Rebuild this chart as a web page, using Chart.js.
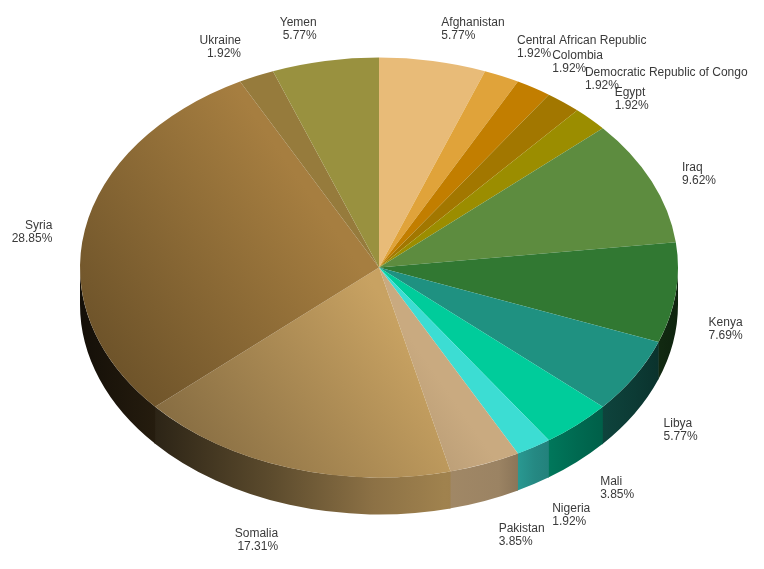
<!DOCTYPE html>
<html>
<head>
<meta charset="utf-8">
<script src="https://cdn.jsdelivr.net/npm/chart.js@4.4.1/dist/chart.umd.min.js"></script>
<style>
  html, body { margin: 0; padding: 0; background: #fff; overflow: hidden; }
  #wrap { width: 764px; height: 569px; }
</style>
</head>
<body>
<div id="wrap"><canvas id="pie" width="764" height="569"></canvas></div>
<script>
const countries = [
  "Afghanistan", "Central African Republic", "Colombia", "Democratic Republic of Congo",
  "Egypt", "Iraq", "Kenya", "Libya", "Mali", "Nigeria", "Pakistan", "Somalia",
  "Syria", "Ukraine", "Yemen"
];
const counts = [3, 1, 1, 1, 1, 5, 4, 3, 2, 1, 2, 9, 15, 1, 3];

const sliceColors = [
  "#E8BB78", "#E0A33A", "#C27E00", "#A27700", "#9B8D00", "#5D8C3F", "#317832",
  "#1F9181", "#00CC9B", "#3CDDD3", "#C9AA80", "#C8A262", "#A67E40", "#967B3C", "#99913F"
];

// where the tilted pie sits on screen
const PIE = { x: 379, y: 267.5, rx: 299, ry: 210, depth: 37 };

// lighting of the side wall, left -> right across the pie
const sideLight = [
  [0, 0.12], [0.125, 0.22], [0.32, 0.46], [0.49, 0.7], [0.61, 0.8],
  [0.7, 0.77], [0.76, 0.62], [0.83, 0.52], [0.93, 0.4], [1, 0.3]
];

const total = counts.reduce((a, b) => a + b, 0);

function shade(hex, f) {
  const n = parseInt(hex.slice(1), 16);
  const r = Math.round(((n >> 16) & 255) * f);
  const g = Math.round(((n >> 8) & 255) * f);
  const b = Math.round((n & 255) * f);
  return "rgb(" + r + "," + g + "," + b + ")";
}

// top face: darker towards the lower left (screen direction x - 0.7y)
function topFill(c) {
  const chart = c.chart;
  const ctrl = chart.getDatasetMeta(0).controller;
  const ca = chart.chartArea;
  const base = sliceColors[c.dataIndex];
  if (!ca || !ctrl.outerRadius) return base;
  const R = ctrl.outerRadius;
  const cx = (ca.left + ca.right) / 2 + ctrl.offsetX;
  const cy = (ca.top + ca.bottom) / 2 + ctrl.offsetY;
  const sx = PIE.rx / R, sy = PIE.ry / R;
  const g2 = sx * sx + 0.49 * sy * sy;
  const p0 = PIE.x - 0.7 * PIE.y;
  const t0 = (-200 - p0) / g2, t1 = (174 - p0) / g2;
  const grad = chart.ctx.createLinearGradient(
    cx + t0 * sx, cy - t0 * 0.7 * sy, cx + t1 * sx, cy - t1 * 0.7 * sy);
  grad.addColorStop(0, shade(base, 0.6));
  grad.addColorStop(1, base);
  return grad;
}

const tiltPlugin = {
  id: "tilt",
  beforeDatasetsDraw(chart) {
    const ctx = chart.ctx;
    const arcs = chart.getDatasetMeta(0).data;
    // side wall, only the front half is visible
    arcs.forEach((arc, i) => {
      const s = Math.max(arc.startAngle, 0);
      const e = Math.min(arc.endAngle + 0.004, Math.PI);
      if (e <= s) return;
      const grad = ctx.createLinearGradient(PIE.x - PIE.rx, 0, PIE.x + PIE.rx, 0);
      sideLight.forEach(([t, f]) => grad.addColorStop(t, shade(sliceColors[i], f)));
      ctx.beginPath();
      ctx.ellipse(PIE.x, PIE.y, PIE.rx, PIE.ry, 0, s, e, false);
      ctx.lineTo(PIE.x + PIE.rx * Math.cos(e), PIE.y + PIE.ry * Math.sin(e) + PIE.depth);
      ctx.ellipse(PIE.x, PIE.y + PIE.depth, PIE.rx, PIE.ry, 0, e, s, true);
      ctx.closePath();
      ctx.fillStyle = grad;
      ctx.fill();
    });
    // squash the round pie into the ellipse
    const a0 = arcs[0];
    ctx.save();
    ctx.translate(PIE.x, PIE.y);
    ctx.scale(PIE.rx / a0.outerRadius, PIE.ry / a0.outerRadius);
    ctx.translate(-a0.x, -a0.y);
  },
  afterDatasetsDraw(chart) {
    chart.ctx.restore();
  },
  afterDraw(chart) {
    const ctx = chart.ctx;
    const arcs = chart.getDatasetMeta(0).data;
    const labels = arcs.map((arc, i) => {
      const a = (arc.startAngle + arc.endAngle) / 2;
      const c = Math.cos(a), s = Math.sin(a);
      const right = c >= 0;
      const xa = PIE.x + (PIE.rx + 30) * c;
      return {
        right,
        x: right ? xa + 3 : xa - 3,
        y: PIE.y + 10.5 + (PIE.ry + 43) * s + (s > 0 ? 21 : 0),
        name: countries[i],
        pct: (counts[i] / total * 100).toFixed(2) + "%"
      };
    });
    [true, false].forEach(side => {
      const group = labels.filter(l => l.right === side).sort((p, q) => p.y - q.y);
      for (let k = 1; k < group.length; k++) {
        if (group[k].y < group[k - 1].y + 15) group[k].y = group[k - 1].y + 15;
      }
    });
    ctx.save();
    ctx.font = '12px "Liberation Sans", Arial, sans-serif';
    ctx.fillStyle = "#3a3a3a";
    ctx.textBaseline = "middle";
    labels.forEach(l => {
      ctx.textAlign = l.right ? "left" : "right";
      ctx.fillText(l.name, l.x, l.y - 6.5);
      ctx.fillText(l.pct, l.x, l.y + 6.5);
    });
    ctx.restore();
  }
};

new Chart(document.getElementById("pie"), {
  type: "pie",
  data: {
    labels: countries,
    datasets: [{
      data: counts,
      backgroundColor: topFill,
      borderWidth: 0,
      hoverOffset: 0,
      clip: false
    }]
  },
  options: {
    responsive: false,
    animation: false,
    events: [],
    layout: { padding: 0 },
    plugins: {
      legend: { display: false },
      tooltip: { enabled: false }
    }
  },
  plugins: [tiltPlugin]
});
</script>
</body>
</html>
